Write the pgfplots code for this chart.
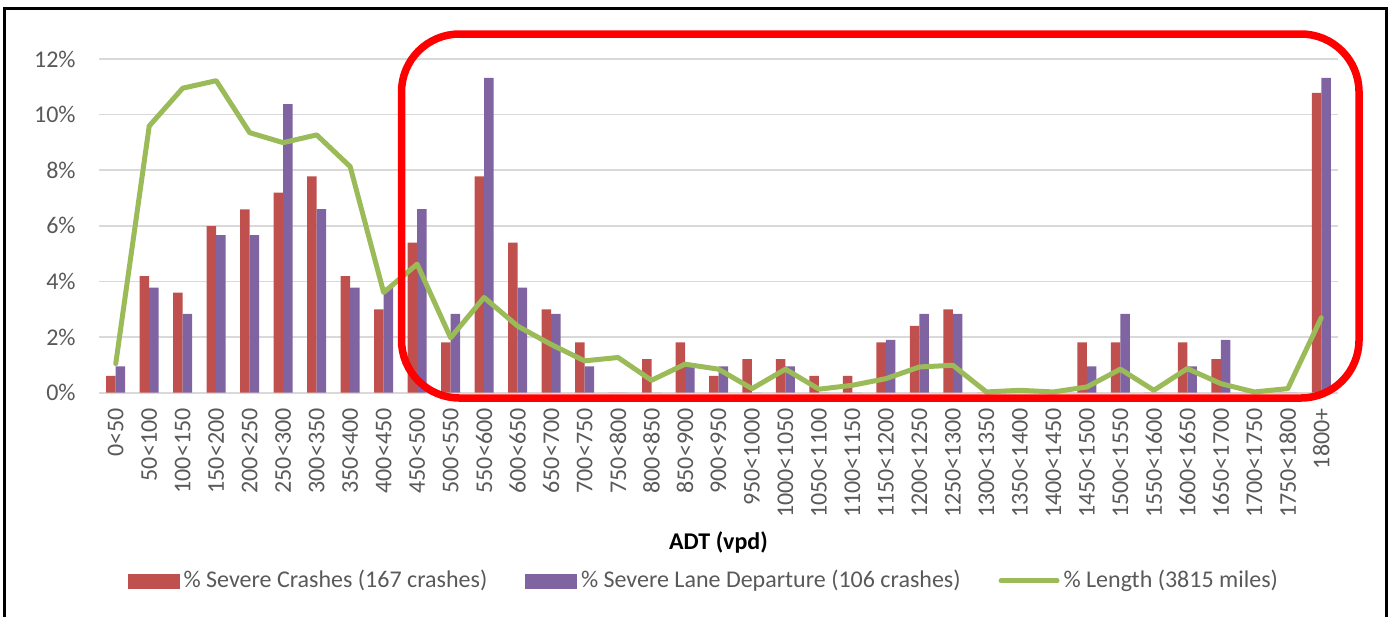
\documentclass[border=0pt]{standalone}
\usepackage{pgfplots}
\pgfplotsset{compat=1.18}
\usepackage{fontspec}
\setmainfont{Carlito}
\definecolor{barred}{HTML}{C0504D}
\definecolor{barpurple}{HTML}{8064A2}
\definecolor{linegreen}{HTML}{9BBB59}
\definecolor{gridgray}{HTML}{D9D9D9}
\definecolor{textgray}{HTML}{595959}
\definecolor{boxred}{HTML}{FF0000}
\newcommand{\ff}{\fontsize{12pt}{14pt}\selectfont}

\begin{document}
\begin{tikzpicture}
\useasboundingbox (0pt,0pt) rectangle (695pt,-308.5pt);
\begin{axis}[
  at={(49.5pt,-196.25pt)}, anchor=south west,
  scale only axis, width=619.5pt, height=166.75pt,
  xmin=-0.5, xmax=36.5, ymin=0, ymax=12,
  ybar=0pt, bar width=4.75pt,
  axis lines*=left,
  y axis line style={draw=none},
  x axis line style={draw=gridgray, line width=1pt},
  ymajorgrids, grid style={draw=gridgray, line width=0.75pt},
  major tick length=0pt,
  ytick={0,2,4,6,8,10,12},
  yticklabels={0\%,2\%,4\%,6\%,8\%,10\%,12\%},
  xtick={0,1,...,36},
  xticklabels={0<50,50<100,100<150,150<200,200<250,250<300,300<350,350<400,400<450,450<500,500<550,550<600,600<650,650<700,700<750,750<800,800<850,850<900,900<950,950<1000,1000<1050,1050<1100,1100<1150,1150<1200,1200<1250,1250<1300,1300<1350,1350<1400,1400<1450,1450<1500,1500<1550,1550<1600,1600<1650,1650<1700,1700<1750,1750<1800,1800+},
  tick label style={font=\ff, text=textgray},
  yticklabel style={anchor=east, inner sep=0pt, xshift=-11.5pt},
  xticklabel style={inner sep=0pt, yshift=-7.75pt, rotate=90, anchor=east},
  xlabel={ADT (vpd)},
  xlabel style={font=\ff\bfseries, text=black, at={(axis description cs:0.5,-0.451)}, anchor=center},
]
\addplot[fill=barred, draw=none] coordinates {
(0,0.60) (1,4.19) (2,3.59) (3,5.99) (4,6.59) (5,7.19) (6,7.78) (7,4.19) (8,2.99) (9,5.39)
(10,1.80) (11,7.78) (12,5.39) (13,2.99) (14,1.80) (15,0) (16,1.20) (17,1.80) (18,0.60) (19,1.20)
(20,1.20) (21,0.60) (22,0.60) (23,1.80) (24,2.40) (25,2.99) (26,0) (27,0) (28,0) (29,1.80)
(30,1.80) (31,0) (32,1.80) (33,1.20) (34,0) (35,0) (36,10.78)};
\addplot[fill=barpurple, draw=none] coordinates {
(0,0.94) (1,3.77) (2,2.83) (3,5.66) (4,5.66) (5,10.38) (6,6.60) (7,3.77) (8,3.77) (9,6.60)
(10,2.83) (11,11.32) (12,3.77) (13,2.83) (14,0.94) (15,0) (16,0) (17,0.94) (18,0.94) (19,0)
(20,0.94) (21,0) (22,0) (23,1.89) (24,2.83) (25,2.83) (26,0) (27,0) (28,0) (29,0.94)
(30,2.83) (31,0) (32,0.94) (33,1.89) (34,0) (35,0) (36,11.32)};
\end{axis}
\begin{axis}[
  at={(49.5pt,-196.25pt)}, anchor=south west,
  scale only axis, width=619.5pt, height=166.75pt,
  xmin=-0.5, xmax=36.5, ymin=0, ymax=12,
  hide axis, clip=false,
  legend columns=3,
  legend cell align=left,
  legend style={at={(0.489,-0.562)}, anchor=center, draw=none, fill=none,
    font=\ff, text=textgray, inner sep=0pt,
    /tikz/every even column/.append style={column sep=17pt}},
]
\addlegendimage{legend image code/.code={\fill[barred] (0pt,-4pt) rectangle (25.5pt,3pt);}}
\addlegendentry{\% Severe Crashes (167 crashes)}
\addlegendimage{legend image code/.code={\fill[barpurple] (0pt,-4pt) rectangle (25.5pt,3pt);}}
\addlegendentry{\% Severe Lane Departure (106 crashes)}
\addplot[linegreen, line width=2.5pt, line join=round, line cap=round,
  legend image code/.code={\draw[linegreen, line width=2.5pt, line cap=round] (0pt,-0.5pt) -- (28pt,-0.5pt);}]
coordinates {
(0,1.04) (1,9.59) (2,10.95) (3,11.22) (4,9.35) (5,8.99) (6,9.27) (7,8.13) (8,3.60) (9,4.62)
(10,1.97) (11,3.42) (12,2.39) (13,1.73) (14,1.14) (15,1.26) (16,0.44) (17,1.02) (18,0.84) (19,0.14)
(20,0.84) (21,0.12) (22,0.26) (23,0.50) (24,0.92) (25,0.98) (26,0.02) (27,0.08) (28,0.02) (29,0.20)
(30,0.84) (31,0.08) (32,0.86) (33,0.32) (34,0.02) (35,0.14) (36,2.69)};
\addlegendentry{\% Length (3815 miles)}
\end{axis}
\begin{scope}[x=0.5pt, y=-0.5pt]
\draw[boxred, line width=3.75pt, rounded corners=29pt] (401.5,34) rectangle (1359,398);
\draw[black, line width=1.2pt] (4.5,617) -- (4.5,8.5) -- (1386.5,8.5) -- (1386.5,617);
\end{scope}
\end{tikzpicture}
\end{document}
